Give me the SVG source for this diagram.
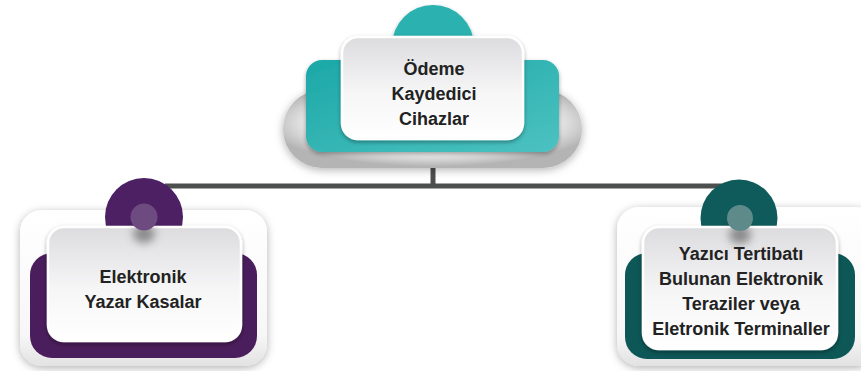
<svg xmlns="http://www.w3.org/2000/svg" width="861" height="371" viewBox="0 0 861 371">
  <defs>
    <style>
      .label { font-family: "Liberation Sans", Arial, sans-serif; font-weight: bold; font-size: 18px; fill: #222222; text-anchor: middle; }
      .wire { stroke: #4d4f4f; stroke-width: 5; fill: none; }
      .card { fill: url(#cardFill); stroke: #ffffff; stroke-width: 2.5; filter: url(#cardShadow); }
      .glow { fill: url(#glowFill); filter: url(#softShadow); }
    </style>
    <linearGradient id="cardFill" x1="0" y1="0" x2="0" y2="1">
      <stop offset="0" stop-color="#dcdcdf"/>
      <stop offset="0.55" stop-color="#f6f6f7"/>
      <stop offset="1" stop-color="#ffffff"/>
    </linearGradient>
    <linearGradient id="glowFill" x1="0" y1="0" x2="0" y2="1">
      <stop offset="0" stop-color="#ffffff"/>
      <stop offset="0.8" stop-color="#f7f7f7"/>
      <stop offset="1" stop-color="#e2e2e2"/>
    </linearGradient>
    <radialGradient id="pillFill" cx="0.5" cy="0.42" r="0.56">
      <stop offset="0" stop-color="#ffffff"/>
      <stop offset="0.7" stop-color="#f2f2f2"/>
      <stop offset="1" stop-color="#b4b4b4"/>
    </radialGradient>
    <linearGradient id="tealFill" x1="0" y1="0" x2="1" y2="1">
      <stop offset="0" stop-color="#1ba8a7"/>
      <stop offset="1" stop-color="#4cc2c1"/>
    </linearGradient>
    <filter id="cardShadow" x="-20%" y="-20%" width="140%" height="150%">
      <feDropShadow dx="0" dy="2" stdDeviation="2.2" flood-color="#000000" flood-opacity="0.35"/>
    </filter>
    <filter id="softShadow" x="-20%" y="-20%" width="140%" height="150%">
      <feDropShadow dx="0" dy="2" stdDeviation="4" flood-color="#000000" flood-opacity="0.3"/>
    </filter>
    <filter id="blob" x="-100%" y="-100%" width="300%" height="300%">
      <feGaussianBlur stdDeviation="4"/>
    </filter>
  </defs>

  <rect width="861" height="371" fill="#ffffff"/>

  <!-- connector lines -->
  <g id="connectors">
    <path class="wire" d="M433 166 V186"/>
    <path class="wire" d="M165 186 H725"/>
  </g>

  <!-- root node -->
  <g id="node-root">
    <rect x="283" y="90" width="299" height="78" rx="39" fill="url(#pillFill)" filter="url(#softShadow)"/>
    <circle cx="433" cy="46" r="41" fill="#2ab1b0" filter="url(#cardShadow)"/>
    <rect x="306" y="60" width="253" height="92" rx="16" fill="url(#tealFill)" filter="url(#cardShadow)"/>
    <rect class="card" x="342" y="37" width="181" height="102" rx="16"/>
    <text class="label" x="434" y="75">Ödeme</text>
    <text class="label" x="434" y="100">Kaydedici</text>
    <text class="label" x="434" y="125">Cihazlar</text>
  </g>

  <!-- left child -->
  <g id="node-left">
    <rect class="glow" x="20" y="210" width="247" height="156" rx="22"/>
    <rect x="30" y="253" width="227" height="105" rx="22" fill="#4a1e5c"/>
    <circle cx="144" cy="217" r="39" fill="#4c2062"/>
    <rect class="card" x="48" y="227" width="193" height="114" rx="16"/>
    <ellipse cx="144" cy="234" rx="11" ry="9" fill="#444444" opacity="0.55" filter="url(#blob)"/>
    <circle cx="144" cy="217" r="13.5" fill="#6d4a7f"/>
    <text class="label" x="143" y="283">Elektronik</text>
    <text class="label" x="143" y="308">Yazar Kasalar</text>
  </g>

  <!-- right child -->
  <g id="node-right">
    <rect class="glow" x="617" y="207" width="260" height="159" rx="22"/>
    <rect x="625" y="253" width="230" height="106" rx="22" fill="#0d5757"/>
    <circle cx="739" cy="218" r="38.5" fill="#0f5a5a"/>
    <rect class="card" x="643" y="227" width="194" height="122" rx="16"/>
    <ellipse cx="740" cy="235" rx="11" ry="9" fill="#444444" opacity="0.55" filter="url(#blob)"/>
    <circle cx="740" cy="218" r="13" fill="#5f8a8a"/>
    <text class="label" x="741" y="260">Yazıcı Tertibatı</text>
    <text class="label" x="741" y="285">Bulunan Elektronik</text>
    <text class="label" x="741" y="310">Teraziler veya</text>
    <text class="label" x="741" y="335">Eletronik Terminaller</text>
  </g>
</svg>
